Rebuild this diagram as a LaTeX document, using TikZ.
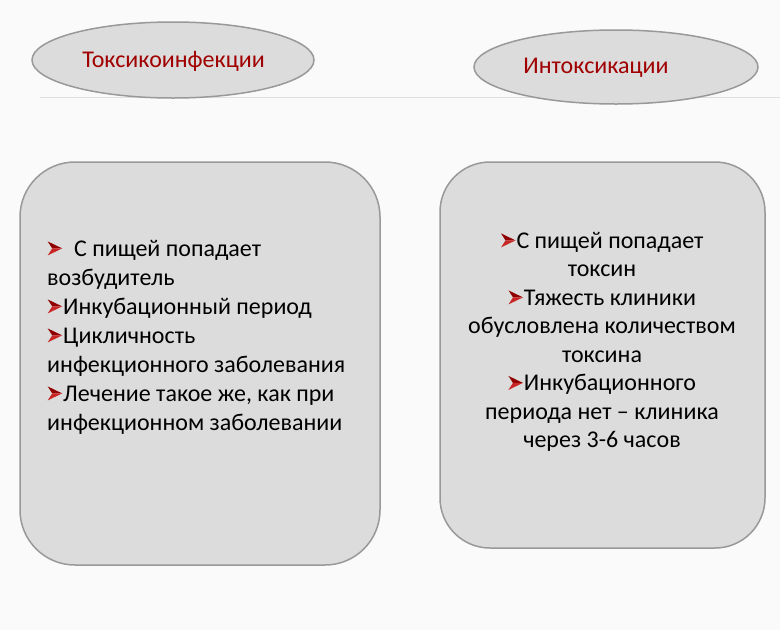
\documentclass[tikz,border=0pt]{standalone}
\usepackage{fontspec}
\setmainfont{Carlito}
\usetikzlibrary{shapes.geometric}
\definecolor{bg}{HTML}{FAFAFA}
\definecolor{boxfill}{HTML}{DCDCDC}
\definecolor{boxline}{HTML}{999999}
\definecolor{titlered}{HTML}{A00000}
\definecolor{bulletred}{HTML}{C00000}
\newcommand{\bul}{\tikz[x=1pt,y=1pt,baseline=0pt]{\path[use as bounding box] (0,0) rectangle (16,14);\fill[bulletred!75!black] (0.5,15) -- (15,8) -- (5,8) -- cycle;\fill[bulletred!85!white] (0.5,1) -- (15,8) -- (5,8) -- cycle;}}
\tikzset{
  x=1pt,y=-1pt,
  oval/.style={ellipse,draw=boxline,line width=1.5pt,fill=boxfill,inner sep=0pt},
  panel/.style={draw=boxline,line width=1.5pt,fill=boxfill,rounded corners=55pt},
  txt/.style={font=\fontsize{24}{29}\selectfont,text=black,inner sep=0pt},
  ttl/.style={text=titlered,font=\fontsize{24}{24}\selectfont,inner sep=0pt}
}
\begin{document}
\begin{tikzpicture}
\fill[bg] (0,0) rectangle (780,630);
\useasboundingbox (0,0) rectangle (780,630);
\coordinate (l0) at (40,97);
\coordinate (l1) at (780,97);
\draw[color=black!12,line width=1pt] (l0) -- (l1);
\node[oval,minimum width=282pt,minimum height=76pt] (e1) at (173,60) {};
\node[ttl] (t1) at (173.5,61) {Токсикоинфекции};
\node[oval,minimum width=284pt,minimum height=74pt] (e2) at (616,67) {};
\node[ttl] (t2) at (596,68) {Интоксикации};
\draw[panel] (20,162) rectangle (380,565);
\draw[panel,rounded corners=50pt] (440,162) rectangle (765,548);
\node[txt,anchor=north west,align=left] (b1) at (47,240) {\bul\ \ С пищей попадает\\возбудитель\\\bul Инкубационный период\\\bul Цикличность\\инфекционного заболевания\\\bul Лечение такое же, как при\\инфекционном заболевании};
\node[txt,anchor=north,align=center,font=\fontsize{24}{28.5}\selectfont] (b2) at (602,232) {\bul С пищей попадает\\токсин\\\bul Тяжесть клиники\\обусловлена количеством\\токсина\\\bul Инкубационного\\периода нет – клиника\\через 3-6 часов};
\end{tikzpicture}
\end{document}
